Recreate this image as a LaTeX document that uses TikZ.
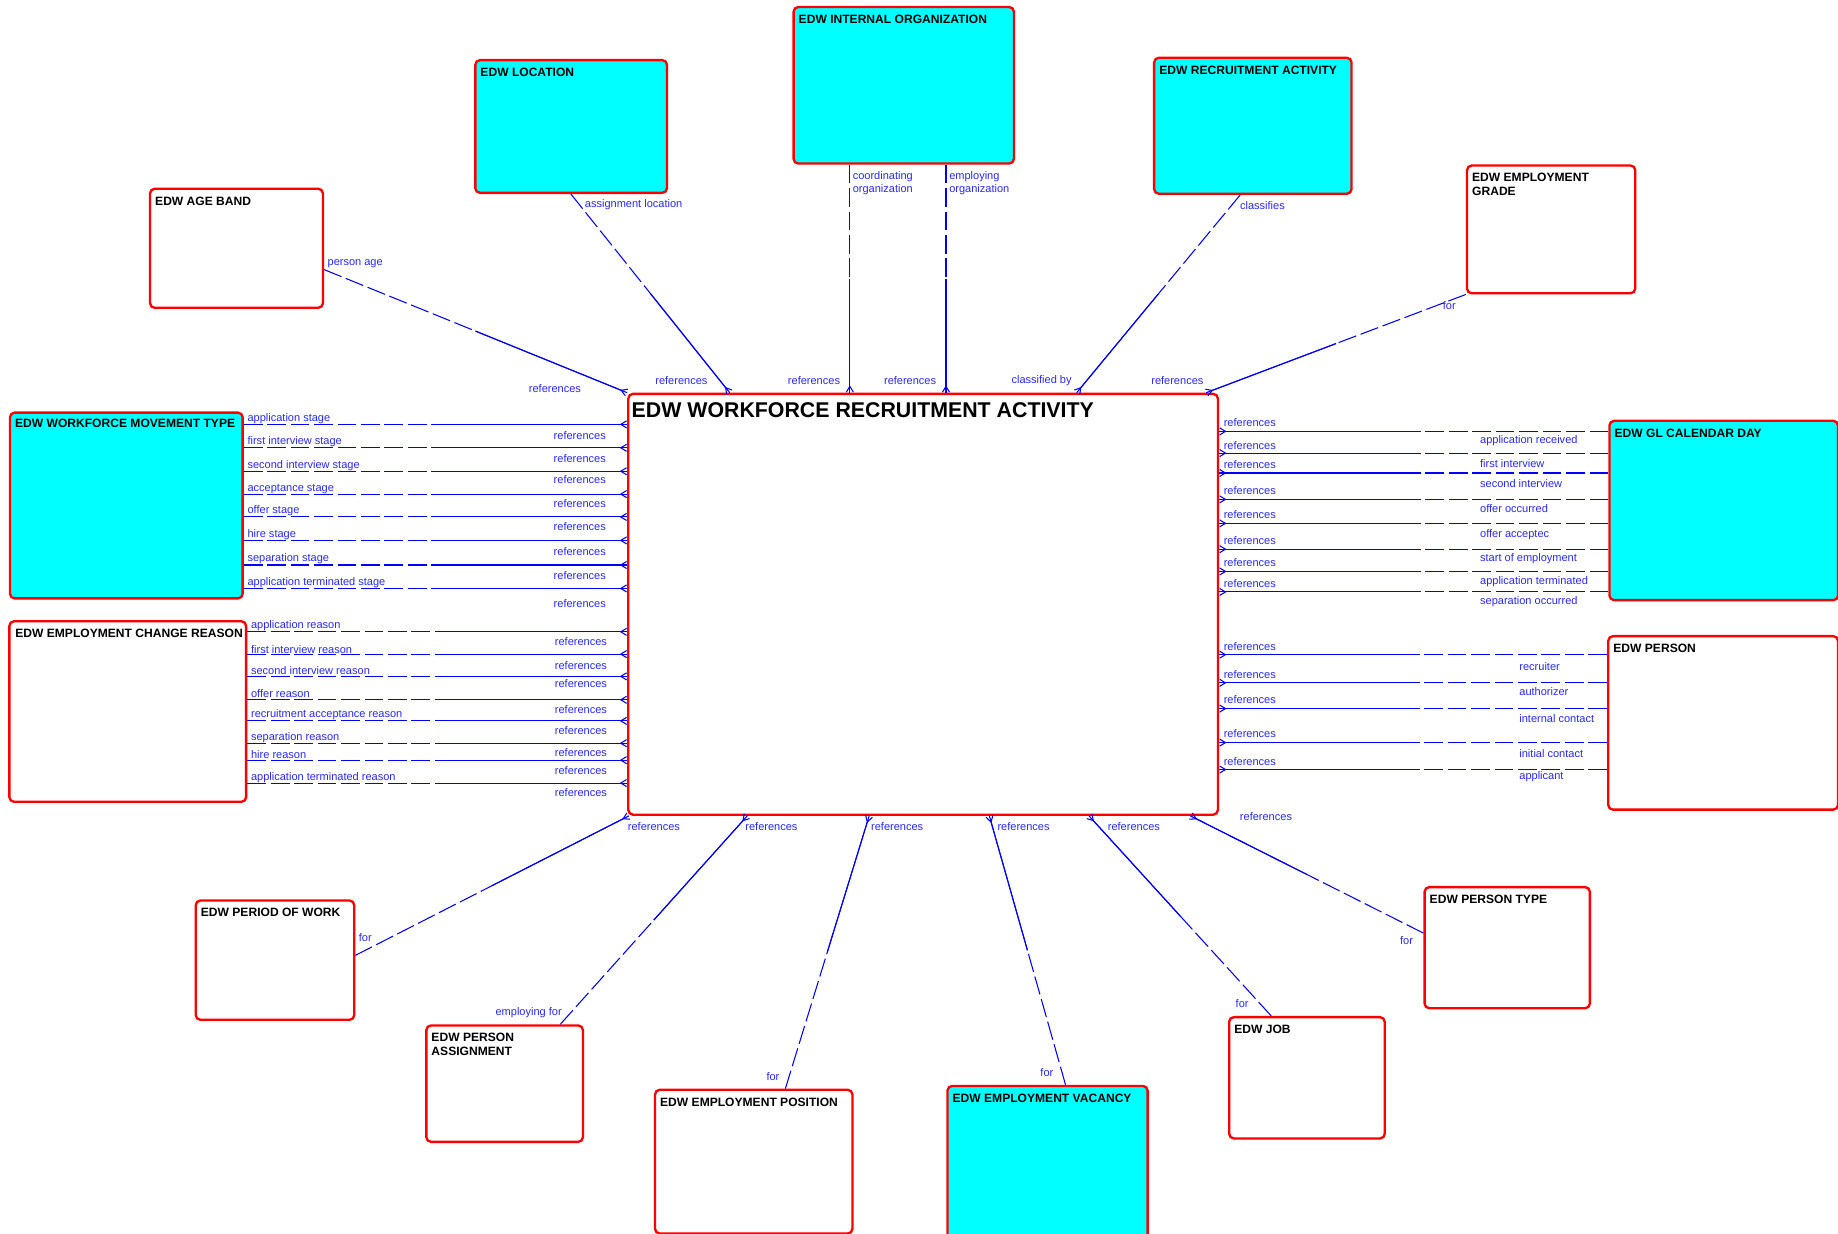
\documentclass[tikz,border=0pt]{standalone}
\usepackage{fontspec}
\setmainfont{Liberation Sans}
\usetikzlibrary{arrows.meta,calc}

\definecolor{entcyan}{RGB}{0,255,255}
\definecolor{relblue}{RGB}{0,0,255}
\definecolor{lblblue}{RGB}{40,40,255}

% half optional (dashed), half mandatory (solid, crow's foot at the child)
\newcommand{\relate}[2]{%
  \coordinate (ra) at (#1);
  \coordinate (rb) at (#2);
  \draw[optline] (ra) -- ($(ra)!0.5!(rb)$);
  \draw[mandline] ($(ra)!0.5!(rb)$) -- (rb);
}

\tikzset{
  entity/.style={draw=red, line width=2pt, rounded corners=4pt, inner sep=0pt, anchor=north west},
  cyanent/.style={entity, fill=entcyan},
  whiteent/.style={entity, fill=white},
  etitle/.style={anchor=north west, inner sep=0pt, align=left, font=\bfseries\fontsize{10.3}{11.8}\selectfont},
  lbl/.style={inner sep=0pt, text=lblblue, font=\fontsize{9.4}{10.8}\selectfont},
  optline/.style={draw=relblue, line width=0.9pt, dash pattern=on 16pt off 4pt},
  mandline/.style={draw=relblue, line width=0.9pt, postaction={draw=relblue, -{Straight Barb[reversed,length=5pt,width=6pt]}}},
}

\begin{document}
\begin{tikzpicture}[x=1pt, y=-1pt]
\useasboundingbox (0,0) rectangle (1568,1052);

% entities
\node[whiteent, minimum width=503, minimum height=359] (main) at (535,335) {};
\node[cyanent, minimum width=188, minimum height=133.5] (intorg) at (676,5) {};
\node[cyanent, minimum width=163.5, minimum height=113.2] (loc) at (404.5,50.3) {};
\node[cyanent, minimum width=168.4, minimum height=116] (ract) at (983.6,48.3) {};
\node[whiteent, minimum width=143.5, minimum height=109] (grade) at (1250.5,140.2) {};
\node[whiteent, minimum width=147.5, minimum height=101.6] (age) at (127,160) {};
\node[cyanent, minimum width=198.5, minimum height=158.5] (wmt) at (7.5,351) {};
\node[whiteent, minimum width=202, minimum height=154] (ecr) at (7,529) {};
\node[cyanent, minimum width=195, minimum height=153] (gl) at (1372,358) {};
\node[whiteent, minimum width=196, minimum height=148] (person) at (1371,541.7) {};
\node[whiteent, minimum width=135.2, minimum height=101.8] (pow) at (166,767.2) {};
\node[whiteent, minimum width=133.6, minimum height=99.3] (pasg) at (362.7,873.8) {};
\node[whiteent, minimum width=168.4, minimum height=122.6] (epos) at (557.8,928.7) {};
\node[cyanent, minimum width=170.7, minimum height=132] (evac) at (807.3,925.4) {};
\node[whiteent, minimum width=132.7, minimum height=103.5] (job) at (1047.6,866.7) {};
\node[whiteent, minimum width=141, minimum height=103.3] (ptype) at (1214.3,755.8) {};

% titles
\node[anchor=north west, inner sep=0pt, font=\bfseries\fontsize{18.2}{20}\selectfont] (mainT) at ([shift={(3.7,8.3)}]main.north west) {EDW WORKFORCE RECRUITMENT ACTIVITY};
\node[etitle] (intorgT) at ([shift={(5.2,7.6)}]intorg.north west) {EDW INTERNAL ORGANIZATION};
\node[etitle] (locT) at ([shift={(5.2,7.6)}]loc.north west) {EDW LOCATION};
\node[etitle] (ractT) at ([shift={(5.2,7.6)}]ract.north west) {EDW RECRUITMENT ACTIVITY};
\node[etitle] (gradeT) at ([shift={(5.2,7.6)}]grade.north west) {EDW EMPLOYMENT\\GRADE};
\node[etitle] (ageT) at ([shift={(5.2,7.6)}]age.north west) {EDW AGE BAND};
\node[etitle] (wmtT) at ([shift={(5.2,6.4)}]wmt.north west) {EDW WORKFORCE MOVEMENT TYPE};
\node[etitle] (ecrT) at ([shift={(5.9,7.4)}]ecr.north west) {EDW EMPLOYMENT CHANGE REASON};
\node[etitle] (glT) at ([shift={(5.2,7.6)}]gl.north west) {EDW GL CALENDAR DAY};
\node[etitle] (personT) at ([shift={(5.2,7.8)}]person.north west) {EDW PERSON};
\node[etitle] (powT) at ([shift={(5.2,7.6)}]pow.north west) {EDW PERIOD OF WORK};
\node[etitle] (pasgT) at ([shift={(5.2,7.6)}]pasg.north west) {EDW PERSON\\ASSIGNMENT};
\node[etitle] (eposT) at ([shift={(5.2,7.6)}]epos.north west) {EDW EMPLOYMENT POSITION};
\node[etitle] (evacT) at ([shift={(5.2,7.6)}]evac.north west) {EDW EMPLOYMENT VACANCY};
\node[etitle] (jobT) at ([shift={(5.2,7.6)}]job.north west) {EDW JOB};
\node[etitle] (ptypeT) at ([shift={(5.2,7.6)}]ptype.north west) {EDW PERSON TYPE};

% top relationships
\relate{age.east |- 0,230}{main.north west}
\relate{487,0 |- loc.south}{622.5,0 |- main.north}
\relate{725,0 |- intorg.south}{725,0 |- main.north}
\relate{807,0 |- intorg.south}{807,0 |- main.north}
\relate{1058,0 |- ract.south}{918.5,0 |- main.north}
\relate{grade.south west}{1029,0 |- main.north}
\node[lbl, anchor=west] (ageL) at (279.3,224.6) {person age};
\node[lbl, anchor=west] (ageR) at (451,331.3) {references};
\node[lbl, anchor=west] (locL) at (498.8,174.3) {assignment location};
\node[lbl, anchor=west] (locR) at (558.9,324.7) {references};
\node[lbl, anchor=north west, align=left] (coordL) at (727.3,146) {coordinating\\organization};
\node[lbl, anchor=west] (coordR) at (672,324.7) {references};
\node[lbl, anchor=north west, align=left] (empL) at (809.6,146) {employing\\organization};
\node[lbl, anchor=west] (empR) at (754,324.7) {references};
\node[lbl, anchor=west] (ractL) at (1057.7,175.2) {classifies};
\node[lbl, anchor=west] (ractR) at (862.8,324.7) {classified by};
\node[lbl, anchor=west] (gradeL) at (1230.7,260.5) {for};
\node[lbl, anchor=west] (gradeR) at (982,324.5) {references};

% left relationships
\foreach \ly/\ny/\ry/\lab [count=\i] in {362/357/371.5/application stage,382/377/391.5/first interview stage,402/397/409.5/second interview stage,421.5/417/429.5/acceptance stage,441/436/449.5/offer stage,461/456/470.5/hire stage,482/477/491/separation stage,502/497/514.5/application terminated stage}{
  \relate{wmt.east |- 0,\ly}{main.west |- 0,\ly}
  \node[lbl, anchor=west] (wmtn\i) at (211,\ny) {\lab};
  \node[lbl, anchor=east] (wmtr\i) at (517,\ry) {references};
}
\foreach \ly/\ny/\ry/\lab [count=\i] in {539/533.5/547/application reason,558/554/567.5/first interview reason,577/572/583.5/second interview reason,597/592/605/offer reason,615/610/623/recruitment acceptance reason,634/629/642/separation reason,648.5/643.5/657/hire reason,668/663/676.5/application terminated reason}{
  \relate{ecr.east |- 0,\ly}{main.west |- 0,\ly}
  \node[lbl, anchor=west] (ecrn\i) at (214,\ny) {\lab};
  \node[lbl, anchor=east] (ecrr\i) at (518,\ry) {references};
}

% right relationships
\foreach \ly/\ry/\ny/\lab [count=\i] in {368/360.5/375.5/application received,386.5/380/395.5/first interview,403.5/396/412.5/second interview,426/418.5/433.5/offer occurred,446.5/439/456.5/offer acceptec,468.5/461/477/start of employment,487.5/479.5/496/application terminated,505/497.5/513/separation occurred}{
  \relate{gl.west |- 0,\ly}{main.east |- 0,\ly}
  \node[lbl, anchor=west] (gln\i) at (1262.5,\ny) {\lab};
  \node[lbl, anchor=west] (glr\i) at (1043.8,\ry) {references};
}
\foreach \ly/\ry/\ny/\lab [count=\i] in {558.5/551.5/568.5/recruiter,582.5/575.5/590/authorizer,604.5/597/613/internal contact,633.5/625.5/642.5/initial contact,656.5/649.5/662.5/applicant}{
  \relate{person.west |- 0,\ly}{main.east |- 0,\ly}
  \node[lbl, anchor=west] (personn\i) at (1296,\ny) {\lab};
  \node[lbl, anchor=west] (personr\i) at (1043.8,\ry) {references};
}

% bottom relationships
\relate{pow.east |- 0,815}{536.5,0 |- main.south}
\relate{478,0 |- pasg.north}{637.5,0 |- main.south}
\relate{670,0 |- epos.north}{741.5,0 |- main.south}
\relate{909,0 |- evac.north}{844,0 |- main.south}
\relate{1084.5,0 |- job.north}{929,0 |- main.south}
\relate{ptype.west |- 0,796}{1015.5,0 |- main.south}
\node[lbl, anchor=west] (powL) at (306,800.2) {for};
\node[lbl, anchor=west] (powR) at (535.5,705) {references};
\node[lbl, anchor=west] (pasgL) at (422.6,863.6) {employing for};
\node[lbl, anchor=west] (pasgR) at (635.7,705) {references};
\node[lbl, anchor=west] (eposL) at (653.7,918.2) {for};
\node[lbl, anchor=west] (eposR) at (743,705) {references};
\node[lbl, anchor=west] (evacL) at (887.4,914.8) {for};
\node[lbl, anchor=west] (evacR) at (850.8,705.2) {references};
\node[lbl, anchor=west] (jobL) at (1054,856.5) {for};
\node[lbl, anchor=west] (jobR) at (944.9,705) {references};
\node[lbl, anchor=west] (ptypeL) at (1194.2,802.2) {for};
\node[lbl, anchor=west] (ptypeR) at (1057.6,696.4) {references};
\end{tikzpicture}
\end{document}
